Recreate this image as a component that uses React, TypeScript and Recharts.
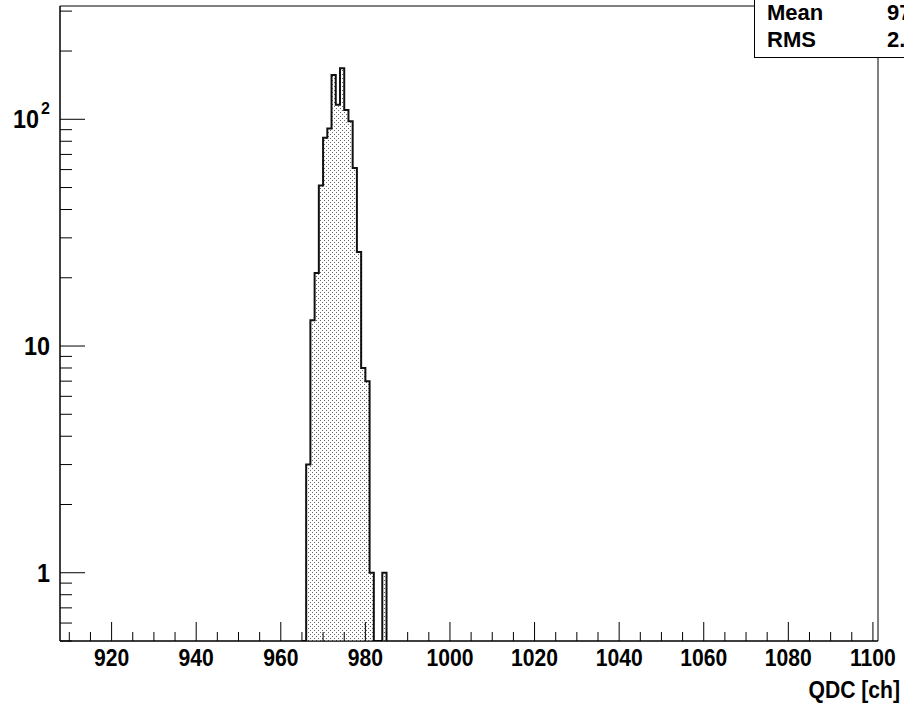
import { ComposedChart, Area, XAxis, YAxis, ReferenceArea } from 'recharts'

// QDC spectrum, 1 channel per bin (low edge of each bin)
const BIN_LOW = [966, 967, 968, 969, 970, 971, 972, 973, 974, 975, 976, 977, 978, 979, 980, 981, 982, 983, 984]
const COUNTS = [3, 13, 21, 51, 83, 91, 157, 116, 168, 110, 98, 61, 26, 8, 7, 1, 0, 0, 1]

const X_LABELS = [920, 940, 960, 980, 1000, 1020, 1040, 1060, 1080, 1100]
const Y_LABELS = [1, 10, 100]
const X_RANGE = [907.8, 1101.2]
const Y_RANGE = [0.5, 316]

const STAT_NAMES = ['Mean', 'RMS']
const STAT_VALUES = ['973.6', '2.541']

const FONT = '"Liberation Sans", Arial, Helvetica, sans-serif'

// log axis can't show empty bins, so they sit on the frame floor
const points = [{ x: BIN_LOW[0] - 1, y: Y_RANGE[0] }]
BIN_LOW.forEach((lo, i) => {
  points.push({ x: lo, y: COUNTS[i] > 0 ? COUNTS[i] : Y_RANGE[0] })
})
points.push({ x: BIN_LOW[BIN_LOW.length - 1] + 1, y: Y_RANGE[0] })

// minor ticks every 5 channels
const xTicks: number[] = []
for (let v = 910; v <= 1100; v += 5) xTicks.push(v)

const yTicks: number[] = []
;[0.1, 1, 10, 100].forEach(dec => {
  for (let m = 1; m <= 9; m++) {
    const v = Math.round(m * dec * 10) / 10
    if (v >= Y_RANGE[0] && v <= Y_RANGE[1]) yTicks.push(v)
  }
})

const XTick = ({ x, y, payload }: any) => {
  const major = X_LABELS.includes(payload.value)
  return (
    <g>
      <line x1={x} x2={x} y1={y} y2={y - (major ? 19 : 9)} stroke="#000" strokeWidth={1} />
      {major && (
        <text
          transform={`translate(${x},${y + 25}) scale(0.88,1)`}
          textAnchor="middle"
          fontFamily={FONT}
          fontWeight="bold"
          fontSize={24}
          fill="#000"
        >
          {payload.value}
        </text>
      )}
    </g>
  )
}

const YTick = ({ x, y, payload }: any) => {
  const major = Y_LABELS.includes(payload.value)
  const v = payload.value
  return (
    <g>
      <line x1={x} x2={x + (major ? 25 : 12)} y1={y} y2={y} stroke="#000" strokeWidth={1} />
      {major && (
        <text
          transform={`translate(${v === 100 ? x - 21 : x - 10},${y + 9}) scale(0.9,1)`}
          textAnchor="end"
          fontFamily={FONT}
          fontWeight="bold"
          fontSize={26}
          fill="#000"
        >
          {v === 100 ? '10' : String(v)}
        </text>
      )}
      {major && v === 100 && (
        <text x={x - 10} y={y - 5} textAnchor="end" fontFamily={FONT} fontWeight="bold" fontSize={16} fill="#000">
          2
        </text>
      )}
    </g>
  )
}

export default function App() {
  return (
    <div style={{ position: 'absolute', left: 0, top: 0, width: 904, height: 707, overflow: 'hidden', background: '#fff' }}>
      <ComposedChart width={904} height={707} data={points} margin={{ top: 6, right: 26, bottom: 0, left: 0 }}>
        <defs>
          <pattern id="dots" width={4} height={4} patternUnits="userSpaceOnUse">
            <rect x={0} y={0} width={4} height={4} fill="#fff" />
            <rect x={0} y={0} width={1} height={1} fill="#666" />
            <rect x={2} y={2} width={1} height={1} fill="#666" />
          </pattern>
        </defs>
        <XAxis
          dataKey="x"
          type="number"
          domain={X_RANGE}
          allowDataOverflow
          ticks={xTicks}
          interval={0}
          tickSize={0}
          tickMargin={0}
          tickLine={false}
          tick={<XTick />}
          axisLine={{ stroke: '#000' }}
          height={66}
        />
        <YAxis
          type="number"
          scale="log"
          domain={Y_RANGE}
          allowDataOverflow
          ticks={yTicks}
          interval={0}
          tickSize={0}
          tickMargin={0}
          tickLine={false}
          tick={<YTick />}
          axisLine={{ stroke: '#000' }}
          width={60}
        />
        <ReferenceArea
          x1={X_RANGE[0]}
          x2={X_RANGE[1]}
          y1={Y_RANGE[0]}
          y2={Y_RANGE[1]}
          fill="none"
          stroke="#000"
          strokeWidth={1}
        />
        <Area
          type="stepAfter"
          dataKey="y"
          baseValue={Y_RANGE[0]}
          stroke="#111"
          strokeWidth={2}
          fill="url(#dots)"
          fillOpacity={1}
          dot={false}
          activeDot={false}
          isAnimationActive={false}
        />
      </ComposedChart>
      <svg width={904} height={707} style={{ position: 'absolute', left: 0, top: 0, pointerEvents: 'none' }}>
        <rect x={754.5} y={-10} width={200} height={67.5} fill="#fff" stroke="#000" strokeWidth={1} />
        {STAT_NAMES.map((name, i) => (
          <g key={name}>
            <text x={767} y={20 + i * 27} fontFamily={FONT} fontWeight="bold" fontSize={22} fill="#000">
              {name}
            </text>
            <text x={887} y={20 + i * 27} fontFamily={FONT} fontWeight="bold" fontSize={22} fill="#000">
              {STAT_VALUES[i]}
            </text>
          </g>
        ))}
        <text
          transform="translate(900,698) scale(0.88,1)"
          textAnchor="end"
          fontFamily={FONT}
          fontWeight="bold"
          fontSize={24}
          fill="#000"
        >
          QDC [ch]
        </text>
      </svg>
    </div>
  )
}
